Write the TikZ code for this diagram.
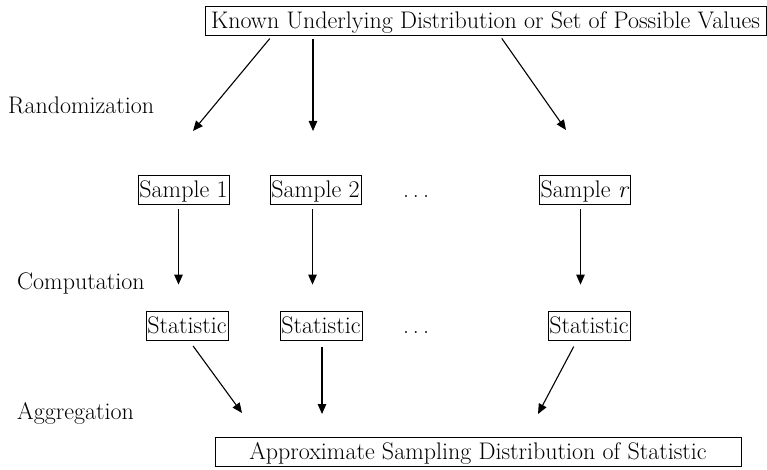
\documentclass[tikz,border=0pt]{standalone}
\usepackage{fontspec}
\usepackage{tikz}
\usetikzlibrary{arrows.meta}

\tikzset{
box/.style={draw, line width=0.8pt, inner xsep=1.5pt, inner ysep=2pt, text height=20pt, text depth=5pt},
word/.style={inner sep=0pt, anchor=base west},
arr/.style={line width=1.1pt, -{Triangle[length=10pt,width=8.5pt]}}
}

\begin{document}
\begin{tikzpicture}[x=10pt,y=10pt,font=\fontsize{24pt}{28pt}\selectfont]
\useasboundingbox (0,0) rectangle (76.7,46.9);
% top and bottom boxes
\node[box,minimum width=561pt] at (48.55,44.8) (known){Known Underlying Distribution or Set of Possible Values};
\node[box,minimum width=526pt] at (47.8,1.7) (approx){Approximate Sampling Distribution of Statistic};
% samples
\node[box,minimum width=91pt] at (18.35,27.95) (s1){Sample 1};
\node[box,minimum width=91pt] at (31.55,27.95) (s2){Sample 2};
\node[box,draw=none] at (41.6,27.95) (dots1){.\,.\,.};
\node[box,minimum width=88pt] at (58.5,27.95) (sr){Sample \textit{r}};
% statistics
\node[box,minimum width=80pt] at (18.7,14.35) (st1){Statistic};
\node[box,minimum width=80pt] at (32.1,14.35) (st2){Statistic};
\node[box,draw=none] at (41.6,14.35) (dots2){.\,.\,.};
\node[box,minimum width=80pt] at (58.9,14.35) (str){Statistic};
% step names
\node[word] at (0.8,35.5) (rand){Randomization};
\node[word] at (1.7,18.0) (comp){Computation};
\node[word] at (1.7,5.0) (aggr){Aggregation};
% arrow heads
\coordinate (h1) at (19.3,33.8);
\coordinate (h2) at (31.3,33.8);
\coordinate (h3) at (56.6,33.9);
\coordinate (g1) at (24.2,5.6);
\coordinate (g2) at (32.2,5.5);
\coordinate (g3) at (53.8,5.5);
\draw[arr,shorten <=3.5pt] (known.south -| 27.2,0) -- (h1);
\draw[arr,shorten <=3.5pt] (known.south -| h2) -- (h2);
\draw[arr,shorten <=3pt] (known.south -| 50,0) -- (h3);
\foreach \a/\b/\x in {s1/st1/17.85,s2/st2/31.25,sr/str/58.05}{
\draw[arr,shorten <=5pt,shorten >=26pt] (\a.south -| \x,0) -- (\b.north -| \x,0);
}
\draw[arr,shorten <=7pt] (st1.south -| 18.9,0) -- (g1);
\draw[arr,shorten <=7pt] (st2.south -| g2) -- (g2);
\draw[arr,shorten <=7pt] (str.south -| 57.7,0) -- (g3);
\end{tikzpicture}
\end{document}
